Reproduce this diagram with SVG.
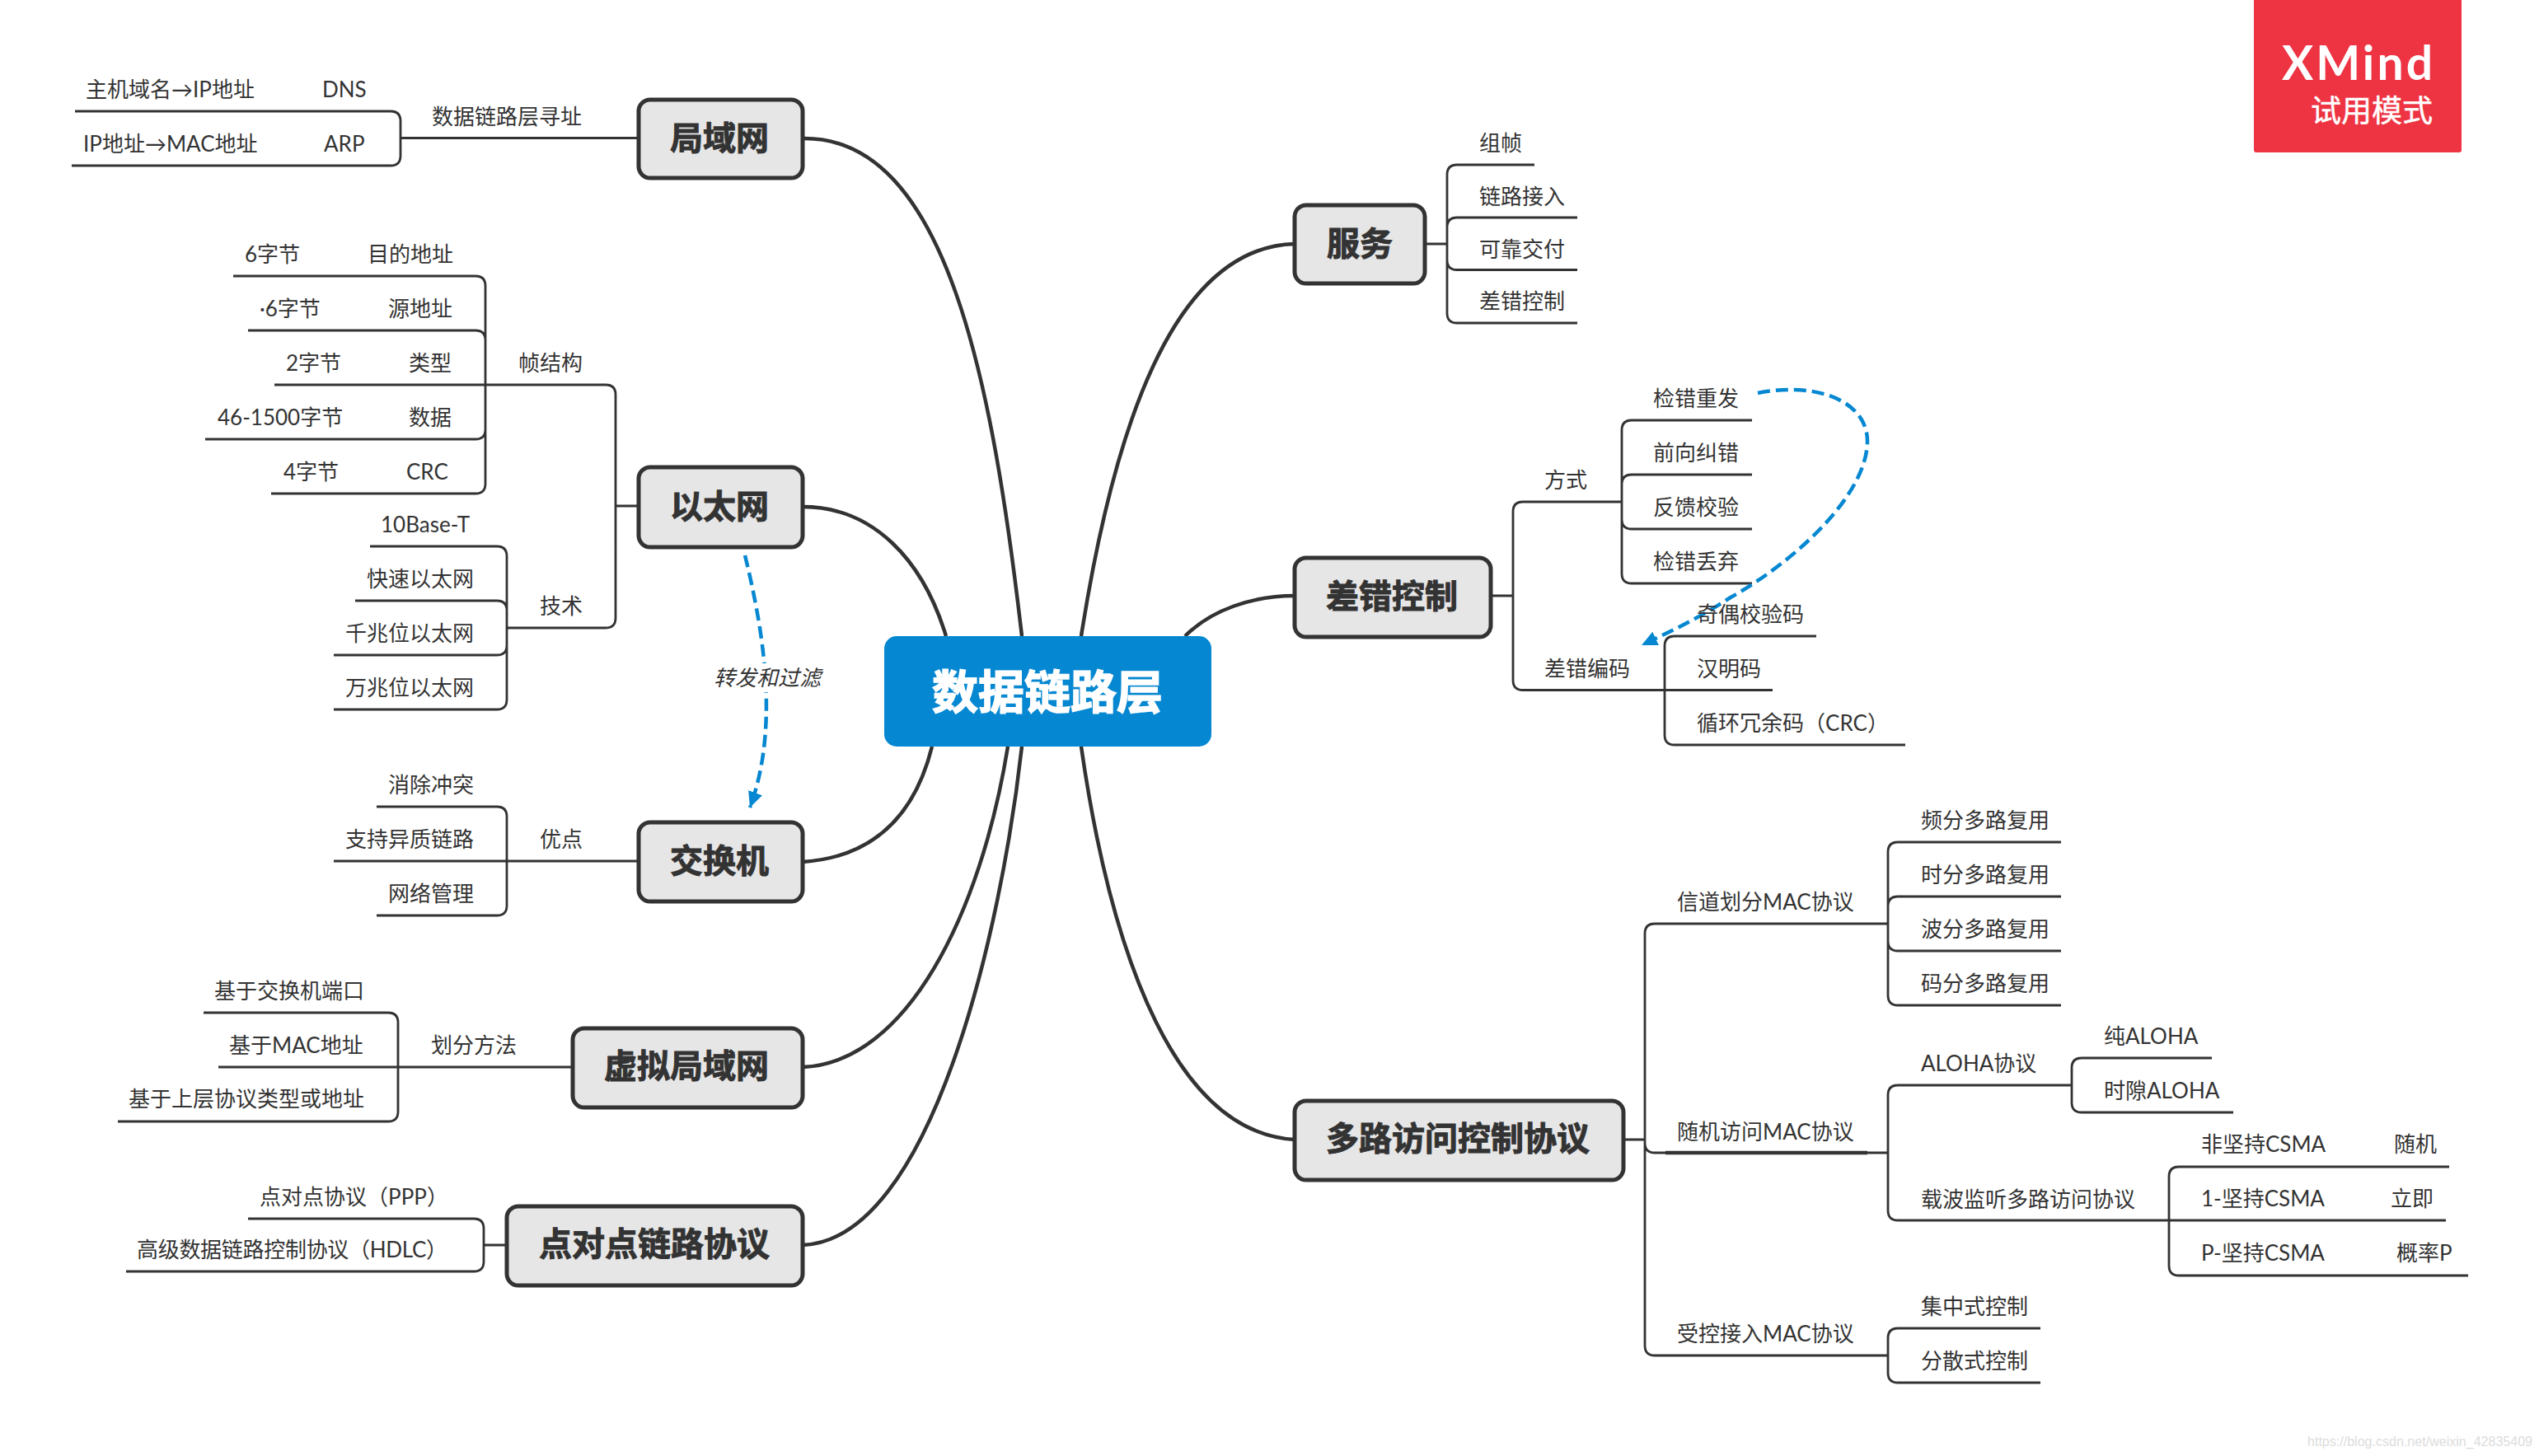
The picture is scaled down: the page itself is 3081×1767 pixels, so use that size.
<svg xmlns="http://www.w3.org/2000/svg" width="3081" height="1767" viewBox="0 0 3081 1767">
<style>
text{font-family:"Lato","Noto Sans CJK SC","Liberation Sans",sans-serif;fill:#333}
.t{font-size:26px}
.m{font-size:40px;font-weight:700;text-anchor:middle;stroke:#333;stroke-width:1}
.box{fill:#e6e6e6;stroke:#333;stroke-width:5}
.trunk{fill:none;stroke:#333;stroke-width:4.500}
.br{fill:none;stroke:#333;stroke-width:2.800}
.rel{fill:none;stroke:#0587d1;stroke-width:4.500;stroke-dasharray:15 7}
</style>
<defs>
<marker id="arrow" markerUnits="userSpaceOnUse" markerWidth="22" markerHeight="22" refX="19" refY="9" orient="auto"><path d="M0 0L19 9L0 18Z" fill="#0587d1"/></marker>
</defs>
<rect width="3081" height="1767" fill="#fff"/>
<g id="connectors">
<path class="trunk" d="M974 168C1150 165 1205 470 1240 772"/>
<path class="trunk" d="M974 615C1060 615 1120 680 1148 772"/>
<path class="trunk" d="M974 1046C1060 1040 1110 990 1131 906"/>
<path class="trunk" d="M974 1295C1100 1290 1190 1110 1223 906"/>
<path class="trunk" d="M974 1511C1130 1505 1215 1130 1240 906"/>
<path class="trunk" d="M1571 296C1420 300 1350 530 1312 772"/>
<path class="trunk" d="M1571 723C1520 723 1470 740 1438 772"/>
<path class="trunk" d="M1571 1383C1430 1375 1350 1170 1312 906"/>
<path class="br" d="M775 167.500H486M91 135H474Q486 135 486 147V167.500M87 201H474Q486 201 486 189V167.500"/>
<path class="br" d="M775 614H747M747 614V479Q747 467 735 467H333M283 335H577Q589 335 589 347V467M301 401H577Q589 401 589 413V467M249 533H577Q589 533 589 521V467M329 599H577Q589 599 589 587V467"/>
<path class="br" d="M747 614V750Q747 762 735 762H615M449 663H603Q615 663 615 675V762M431 729H603Q615 729 615 741V762M405 795H603Q615 795 615 783V762M405 861H603Q615 861 615 849V762"/>
<path class="br" d="M775 1045H405M457 979H603Q615 979 615 991V1045M457 1111H603Q615 1111 615 1099V1045"/>
<path class="br" d="M695 1295H265M247 1229H471Q483 1229 483 1241V1295M143 1361H471Q483 1361 483 1349V1295"/>
<path class="br" d="M615 1511H587M301 1479H575Q587 1479 587 1491V1511M153 1543H575Q587 1543 587 1531V1511"/>
<path class="br" d="M1729 296H1756M1862 200H1768Q1756 200 1756 212V296M1914 264H1768Q1756 264 1756 276V296M1914 327.500H1768Q1756 327.500 1756 315.500V296M1914 392H1768Q1756 392 1756 380V296"/>
<path class="br" d="M1809 723H1836M1968 609H1848Q1836 609 1836 621V723M2151 837.500H1848Q1836 837.500 1836 825.500V723"/>
<path class="br" d="M2126 510H1980Q1968 510 1968 522V609M2126 576H1980Q1968 576 1968 588V609M2126 642H1980Q1968 642 1968 630V609M2126 708H1980Q1968 708 1968 696V609"/>
<path class="br" d="M2204 772H2032Q2020 772 2020 784V837.500M2312 904H2032Q2020 904 2020 892V837.500"/>
<path class="br" d="M1970 1383H1996M2291 1121H2008Q1996 1121 1996 1133V1383M2291 1399H2008Q1996 1399 1996 1387V1383M2291 1645H2008Q1996 1645 1996 1633V1383"/>
<path class="br" style="stroke-width:4.500" d="M2021 1399H2266"/>
<path class="br" d="M2501 1022H2303Q2291 1022 2291 1034V1121M2501 1088H2303Q2291 1088 2291 1100V1121M2501 1154H2303Q2291 1154 2291 1142V1121M2501 1220H2303Q2291 1220 2291 1208V1121"/>
<path class="br" d="M2514 1317H2303Q2291 1317 2291 1329V1399M2968 1481H2303Q2291 1481 2291 1469V1399"/>
<path class="br" d="M2684 1284H2526Q2514 1284 2514 1296V1317M2710 1350H2526Q2514 1350 2514 1338V1317"/>
<path class="br" d="M2972 1416H2644Q2632 1416 2632 1428V1481M2995 1548H2644Q2632 1548 2632 1536V1481"/>
<path class="br" d="M2476 1612H2303Q2291 1612 2291 1624V1645M2476 1678H2303Q2291 1678 2291 1666V1645"/>
<path class="rel" marker-end="url(#arrow)" d="M904 674C925 760 947 880 910 980"/>
<path class="rel" marker-end="url(#arrow)" d="M2133 477C2210 462 2266 490 2266 535C2266 600 2180 680 2100 725C2060 751 2030 765 1992 783"/>
</g>
<g id="label-relation"><rect x="866" y="805" width="136" height="35" fill="#fff"/><text class="t" x="866" y="832" font-style="italic">转发和过滤</text></g>
<g id="root"><rect x="1073" y="772" width="397" height="134" rx="15" fill="#0587d1"/><text x="1271" y="860" font-size="56" font-weight="700" text-anchor="middle" style="fill:#fff;stroke:#fff;stroke-width:1.500">数据链路层</text></g>
<g id="lan"><rect class="box" x="775" y="121" width="199" height="95" rx="14"/><text class="m" x="873" y="182">局域网</text></g>
<g id="ethernet"><rect class="box" x="775" y="567" width="199" height="97" rx="14"/><text class="m" x="873" y="629">以太网</text></g>
<g id="switch"><rect class="box" x="775" y="998" width="199" height="96" rx="14"/><text class="m" x="873" y="1059">交换机</text></g>
<g id="vlan"><rect class="box" x="695" y="1248" width="279" height="96" rx="14"/><text class="m" x="833" y="1308">虚拟局域网</text></g>
<g id="ppp"><rect class="box" x="615" y="1464" width="359" height="96" rx="14"/><text class="m" x="794" y="1524">点对点链路协议</text></g>
<g id="service"><rect class="box" x="1571" y="249" width="158" height="95" rx="14"/><text class="m" x="1650" y="310">服务</text></g>
<g id="error"><rect class="box" x="1571" y="677" width="238" height="96" rx="14"/><text class="m" x="1689" y="738">差错控制</text></g>
<g id="mac"><rect class="box" x="1571" y="1336" width="399" height="96" rx="14"/><text class="m" x="1769" y="1396">多路访问控制协议</text></g>
<g id="n1"><text class="t" y="118"><tspan x="104">主机域名→IP地址</tspan><tspan x="391">DNS</tspan></text></g>
<g id="n2"><text class="t" y="184"><tspan x="101">IP地址→MAC地址</tspan><tspan x="393">ARP</tspan></text></g>
<g id="n3"><text class="t" x="524" y="151">数据链路层寻址</text></g>
<g id="n4"><text class="t" y="318"><tspan x="297">6字节</tspan><tspan x="446">目的地址</tspan></text></g>
<g id="n5"><text class="t" y="384"><tspan x="315">·6字节</tspan><tspan x="471">源地址</tspan></text></g>
<g id="n6"><text class="t" y="450"><tspan x="347">2字节</tspan><tspan x="496">类型</tspan></text></g>
<g id="n7"><text class="t" y="516"><tspan x="264">46-1500字节</tspan><tspan x="496">数据</tspan></text></g>
<g id="n8"><text class="t" y="582"><tspan x="344">4字节</tspan><tspan x="493">CRC</tspan></text></g>
<g id="n9"><text class="t" x="629" y="450">帧结构</text></g>
<g id="n10"><text class="t" x="462" y="646">10Base-T</text></g>
<g id="n11"><text class="t" x="445" y="712">快速以太网</text></g>
<g id="n12"><text class="t" x="419" y="778">千兆位以太网</text></g>
<g id="n13"><text class="t" x="419" y="844">万兆位以太网</text></g>
<g id="n14"><text class="t" x="655" y="745">技术</text></g>
<g id="n15"><text class="t" x="471" y="962">消除冲突</text></g>
<g id="n16"><text class="t" x="419" y="1028">支持异质链路</text></g>
<g id="n17"><text class="t" x="471" y="1094">网络管理</text></g>
<g id="n18"><text class="t" x="655" y="1028">优点</text></g>
<g id="n19"><text class="t" x="260" y="1212">基于交换机端口</text></g>
<g id="n20"><text class="t" x="278" y="1278">基于MAC地址</text></g>
<g id="n21"><text class="t" x="156" y="1343">基于上层协议类型或地址</text></g>
<g id="n22"><text class="t" x="523" y="1278">划分方法</text></g>
<g id="n23"><text class="t" x="315" y="1462" textLength="229">点对点协议（PPP）</text></g>
<g id="n24"><text class="t" x="166" y="1526" textLength="377">高级数据链路控制协议（HDLC）</text></g>
<g id="n25"><text class="t" x="1795" y="183">组帧</text></g>
<g id="n26"><text class="t" x="1795" y="248">链路接入</text></g>
<g id="n27"><text class="t" x="1795" y="312">可靠交付</text></g>
<g id="n28"><text class="t" x="1795" y="375">差错控制</text></g>
<g id="n29"><text class="t" x="1874" y="592">方式</text></g>
<g id="n30"><text class="t" x="2006" y="493">检错重发</text></g>
<g id="n31"><text class="t" x="2006" y="559">前向纠错</text></g>
<g id="n32"><text class="t" x="2006" y="625">反馈校验</text></g>
<g id="n33"><text class="t" x="2006" y="691">检错丢弃</text></g>
<g id="n34"><text class="t" x="1874" y="821">差错编码</text></g>
<g id="n35"><text class="t" x="2059" y="755">奇偶校验码</text></g>
<g id="n36"><text class="t" x="2059" y="821">汉明码</text></g>
<g id="n37"><text class="t" x="2059" y="887" textLength="233">循环冗余码（CRC）</text></g>
<g id="n38"><text class="t" x="2035" y="1104">信道划分MAC协议</text></g>
<g id="n39"><text class="t" x="2035" y="1383">随机访问MAC协议</text></g>
<g id="n40"><text class="t" x="2035" y="1628">受控接入MAC协议</text></g>
<g id="n41"><text class="t" x="2331" y="1005">频分多路复用</text></g>
<g id="n42"><text class="t" x="2331" y="1071">时分多路复用</text></g>
<g id="n43"><text class="t" x="2331" y="1137">波分多路复用</text></g>
<g id="n44"><text class="t" x="2331" y="1203">码分多路复用</text></g>
<g id="n45"><text class="t" x="2331" y="1300">ALOHA协议</text></g>
<g id="n46"><text class="t" x="2553" y="1267">纯ALOHA</text></g>
<g id="n47"><text class="t" x="2553" y="1333">时隙ALOHA</text></g>
<g id="n48"><text class="t" x="2331" y="1465">载波监听多路访问协议</text></g>
<g id="n49"><text class="t" y="1398"><tspan x="2671">非坚持CSMA</tspan><tspan x="2905">随机</tspan></text></g>
<g id="n50"><text class="t" y="1464"><tspan x="2671">1-坚持CSMA</tspan><tspan x="2901">立即</tspan></text></g>
<g id="n51"><text class="t" y="1530"><tspan x="2671">P-坚持CSMA</tspan><tspan x="2908">概率P</tspan></text></g>
<g id="n52"><text class="t" x="2331" y="1595">集中式控制</text></g>
<g id="n53"><text class="t" x="2331" y="1661">分散式控制</text></g>
<g id="badge"><rect x="2735" y="-4" width="252" height="189" rx="3" fill="#ee3342"/><text x="2769" y="97" font-size="57" font-weight="700" textLength="183" style="fill:#fff">XMind</text><text x="2804" y="148" font-size="37" style="fill:#fff;stroke:#fff;stroke-width:.5">试用模式</text></g>
<text x="2800" y="1755" font-size="16" textLength="273" style="fill:#dcdcdc;font-family:'Liberation Sans',sans-serif">https://blog.csdn.net/weixin_42835409</text>
</svg>
